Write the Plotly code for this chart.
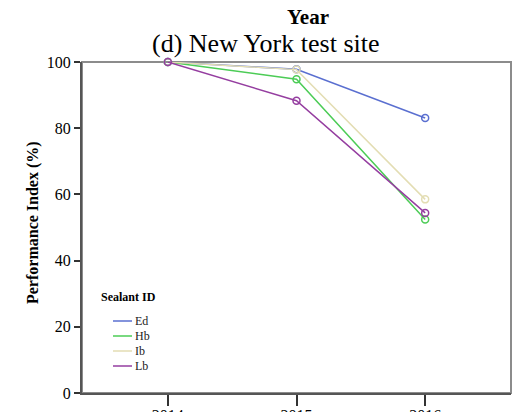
import plotly.graph_objects as go

years = [2014, 2015, 2016]
series_names = ["Ed", "Hb", "Ib", "Lb"]
ed = [100, 97.8, 83.1]
hb = [100, 94.8, 52.4]
ib = [100, 97.7, 58.5]
lb = [100, 88.3, 54.4]
values = [ed, hb, ib, lb]
colors = ["#5a6fd0", "#4ccc56", "#e3ddb3", "#953ea0"]
y_ticks = [0, 20, 40, 60, 80, 100]
legend_title = "Sealant ID"

FONT = "Liberation Serif"

fig = go.Figure()
for name, vals, col in zip(series_names, values, colors):
    fig.add_trace(go.Scatter(
        x=years, y=vals, mode="lines+markers", name=name,
        line=dict(color=col, width=1.5),
        marker=dict(symbol="circle-open", size=7, color=col, line=dict(width=1.5)),
        showlegend=False, cliponaxis=False,
    ))

L, R, T, B = 82, 511, 62, 393
W, H = 524, 412
pw, ph = R - L, B - T

def px(x):
    return (x - L) / pw

def py(y):
    return (B - y) / ph

shapes = [dict(type="rect", xref="paper", yref="paper", x0=0, x1=1, y0=0, y1=1,
               line=dict(color="#8c8c8c", width=2), layer="below")]
annotations = [
    dict(text="<b>Year</b>", xref="paper", yref="paper", x=px(308), y=py(17),
         xanchor="center", yanchor="middle", showarrow=False,
         font=dict(size=21, family=FONT)),
    dict(text="(d) New York test site", xref="paper", yref="paper", x=px(266), y=py(43.5),
         xanchor="center", yanchor="middle", showarrow=False,
         font=dict(size=26, family=FONT)),
    dict(text="<b>Performance Index (%)</b>", xref="paper", yref="paper", x=px(33), y=py(223),
         xanchor="center", yanchor="middle", showarrow=False, textangle=-90,
         font=dict(size=16, family=FONT)),
    dict(text="<b>" + legend_title + "</b>", xref="paper", yref="paper", x=px(99), y=py(297),
         xanchor="left", yanchor="middle", showarrow=False,
         font=dict(size=12, family=FONT)),
]
# legend built from the series names / colours
for i, (name, col) in enumerate(zip(series_names, colors)):
    yy = py(321 + 15 * i)
    shapes.append(dict(type="line", xref="paper", yref="paper", x0=px(113), x1=px(132),
                       y0=yy, y1=yy, line=dict(color=col, width=1.5)))
    annotations.append(dict(text=name, xref="paper", yref="paper", x=px(133), y=yy,
                            xanchor="left", yanchor="middle", showarrow=False,
                            font=dict(size=12, family=FONT, color="#222")))

fig.update_layout(
    width=W, height=H,
    margin=dict(l=L, r=W - R, t=T, b=H - B, pad=0, autoexpand=False),
    paper_bgcolor="white", plot_bgcolor="white",
    font=dict(family=FONT, size=16, color="#000"),
    showlegend=False,
    shapes=shapes, annotations=annotations,
    xaxis=dict(
        range=[2013.333, 2016.667], tickvals=years, showticklabels=False,
        showgrid=False, zeroline=False, showline=True, linecolor="#555", linewidth=2,
        ticks="outside", ticklen=11, tickcolor="#333", tickwidth=1.5, automargin=False,
    ),
    xaxis2=dict(overlaying="x", side="bottom", range=[2013.333, 2016.667],
                tickvals=years, ticktext=[str(y) for y in years],
                showgrid=False, zeroline=False, showline=False,
                ticks="outside", ticklen=8, tickcolor="rgba(0,0,0,0)",
                tickfont=dict(size=16, family=FONT), automargin=False),
    yaxis=dict(
        range=[0, 100], tickvals=y_ticks,
        showgrid=False, zeroline=False, showline=True, linecolor="#555", linewidth=2,
        ticks="outside", ticklen=6, tickcolor="#333", tickwidth=1.5,
        tickfont=dict(size=16, family=FONT), automargin=False,
    ),
)
# invisible helper trace so the label axis is drawn
fig.add_trace(go.Scatter(x=years, y=[None] * len(years), xaxis="x2", yaxis="y",
                         mode="markers", showlegend=False, hoverinfo="skip"))

fig.write_html("out.html")
